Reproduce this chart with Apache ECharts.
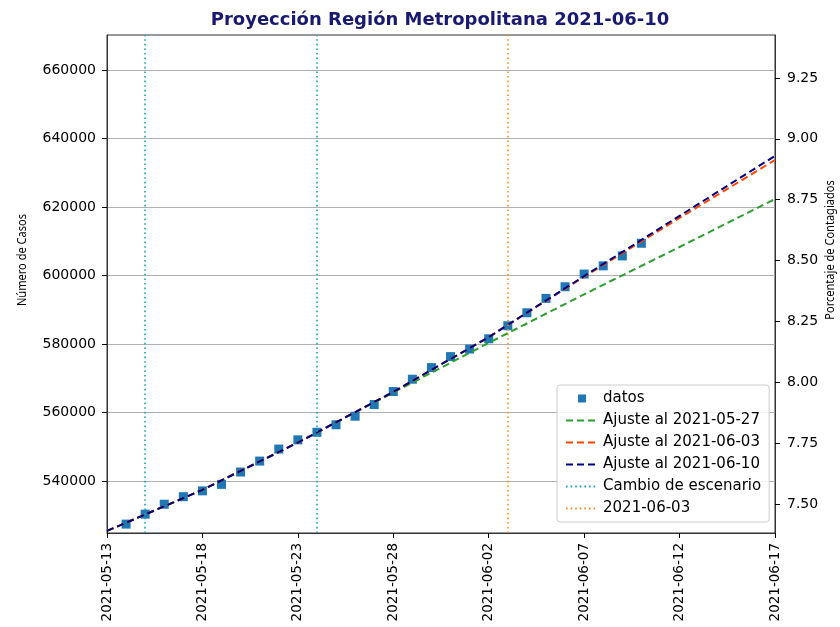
<!DOCTYPE html>
<html>
<head>
<meta charset="utf-8">
<script src="https://cdn.jsdelivr.net/npm/echarts@6/dist/echarts.min.js"></script>
<style>
  html, body { margin: 0; padding: 0; background: #fff; }
  #chart { width: 840px; height: 627px; }
</style>
</head>
<body>
<div id="chart"></div>
<script>
// observed data (casos acumulados)
const datosFechas = [
  '2021-05-14','2021-05-15','2021-05-16','2021-05-17','2021-05-18','2021-05-19','2021-05-20',
  '2021-05-21','2021-05-22','2021-05-23','2021-05-24','2021-05-25','2021-05-26','2021-05-27',
  '2021-05-28','2021-05-29','2021-05-30','2021-05-31','2021-06-01','2021-06-02','2021-06-03',
  '2021-06-04','2021-06-05','2021-06-06','2021-06-07','2021-06-08','2021-06-09','2021-06-10'
];
const datosCasos = [
  527400, 530300, 533200, 535400, 537100, 539000, 542600,
  545800, 549300, 552000, 554200, 556400, 558900, 562300,
  566100, 569700, 573100, 576300, 578500, 581500, 585300,
  589100, 593300, 596700, 600400, 602800, 605700, 609400
];

// fitted curves, read every 5 days
const ajusteFechas = ['2021-05-13','2021-05-18','2021-05-23','2021-05-28','2021-06-02','2021-06-07','2021-06-12','2021-06-17'];
const ajuste0527 = [525400, 537400, 551200, 565800, 580300, 594500, 608300, 622300];
const ajuste0603 = [525400, 537400, 551200, 566000, 582000, 599600, 616800, 633700];
const ajuste0610 = [525400, 537400, 551200, 566000, 582000, 599800, 617400, 634900];

const cambioEscenario = ['2021-05-15', '2021-05-24'];
const corte = ['2021-06-03'];

const xTicks = ['2021-05-13','2021-05-18','2021-05-23','2021-05-28','2021-06-02','2021-06-07','2021-06-12','2021-06-17'];
const yTicks = [540000, 560000, 580000, 600000, 620000, 640000, 660000];
const pctTicks = [7.50, 7.75, 8.00, 8.25, 8.50, 8.75, 9.00, 9.25];

const poblacion = 7110000;
const yMin = 524800, yMax = 670200;

const t0 = Date.parse(xTicks[0]);
function dia(f) { return Math.round((Date.parse(f) - t0) / 86400000); }
function pares(fechas, vals) { return fechas.map((f, i) => [dia(f), vals[i]]); }

const font = 'DejaVu Sans';
const myChart = echarts.init(document.getElementById('chart'));

function ajusteSerie(name, vals, color) {
  return {
    name: name, type: 'line', data: pares(ajusteFechas, vals),
    symbol: 'none', color: color, z: 3,
    lineStyle: { color: color, width: 2, type: [7, 4] }
  };
}
function vlineSerie(name, fechas, color) {
  return {
    name: name, type: 'line', data: [], color: color, symbol: 'none', z: 2,
    lineStyle: { color: color, width: 1.6, type: [1.6, 3] },
    markLine: {
      silent: true, symbol: ['none', 'none'], label: { show: false },
      lineStyle: { color: color, width: 1.6, type: [1.6, 3] },
      data: fechas.map(f => ({ xAxis: dia(f) }))
    }
  };
}
const sinSimbolo = { opacity: 0 };

const option = {
  animation: false,
  title: {
    text: 'Proyección Región Metropolitana 2021-06-10',
    left: 435, top: 6, textAlign: 'center',
    textStyle: { fontFamily: font, fontSize: 18, fontWeight: 'bold', color: '#191970' }
  },
  grid: {
    left: 107, right: 65, top: 35, bottom: 94,
    show: true, borderColor: '#333', borderWidth: 1, backgroundColor: 'transparent'
  },
  legend: {
    orient: 'vertical', left: 557, top: 385,
    padding: [6, 8, 6, 8], itemGap: 7, itemWidth: 32, itemHeight: 14,
    backgroundColor: 'rgba(255,255,255,0.85)', borderColor: '#ccc', borderWidth: 1, borderRadius: 3,
    textStyle: { fontFamily: font, fontSize: 15, color: '#000' },
    data: [
      { name: 'datos', icon: 'path://M0,0M14,14M3,3h8v8h-8z' },
      { name: 'Ajuste al 2021-05-27', itemStyle: sinSimbolo },
      { name: 'Ajuste al 2021-06-03', itemStyle: sinSimbolo },
      { name: 'Ajuste al 2021-06-10', itemStyle: sinSimbolo },
      { name: 'Cambio de escenario', itemStyle: sinSimbolo },
      { name: '2021-06-03', itemStyle: sinSimbolo }
    ]
  },
  graphic: [
    { type: 'text', x: 22, y: 260, rotation: Math.PI / 2, scaleX: 0.85,
      style: { text: 'Número de Casos', font: '13px "Noto Sans"', fill: '#000', align: 'center', verticalAlign: 'middle' } },
    { type: 'text', x: 830, y: 250, rotation: Math.PI / 2, scaleX: 0.85,
      style: { text: 'Porcentaje de Contagiados', font: '13px "Noto Sans"', fill: '#000', align: 'center', verticalAlign: 'middle' } }
  ],
  xAxis: {
    type: 'value', min: 0, max: 35, interval: 5,
    axisLine: { show: true, lineStyle: { color: '#333', width: 1 } },
    axisTick: { show: true, length: 5, lineStyle: { color: '#000' } },
    splitLine: { show: false },
    axisLabel: {
      rotate: 90, margin: 10, fontFamily: font, fontSize: 13.5, color: '#000',
      formatter: v => xTicks[v / 5] || ''
    }
  },
  yAxis: [
    {
      type: 'value', min: yMin, max: yMax, position: 'left',
      axisLine: { show: true, lineStyle: { color: '#333', width: 1 } },
      axisTick: { show: true, length: 5, customValues: yTicks, lineStyle: { color: '#000' } },
      axisLabel: { customValues: yTicks, margin: 11, fontFamily: font, fontSize: 14, color: '#000',
        formatter: v => String(v) },
      splitLine: { show: true, lineStyle: { color: '#b0b0b0', width: 1 } }
    },
    {
      type: 'value', min: yMin / poblacion * 100, max: yMax / poblacion * 100, position: 'right',
      axisLine: { show: true, lineStyle: { color: '#333', width: 1 } },
      axisTick: { show: true, length: 5, customValues: pctTicks, lineStyle: { color: '#000' } },
      axisLabel: { customValues: pctTicks, margin: 12, fontFamily: font, fontSize: 14, color: '#000',
        formatter: v => v.toFixed(2) },
      splitLine: { show: false }
    }
  ],
  series: [
    {
      name: 'datos', type: 'scatter', data: pares(datosFechas, datosCasos),
      symbol: 'rect', symbolSize: 9, color: '#1f77b4', z: 1,
      itemStyle: { opacity: 1 }
    },
    ajusteSerie('Ajuste al 2021-05-27', ajuste0527, '#2ca02c'),
    ajusteSerie('Ajuste al 2021-06-03', ajuste0603, '#ff4500'),
    ajusteSerie('Ajuste al 2021-06-10', ajuste0610, '#000080'),
    vlineSerie('Cambio de escenario', cambioEscenario, '#17a8a8'),
    vlineSerie('2021-06-03', corte, '#ff8c1a')
  ]
};
myChart.setOption(option);
window.addEventListener('resize', function () {
  myChart.resize();
});
</script>
</body>
</html>
